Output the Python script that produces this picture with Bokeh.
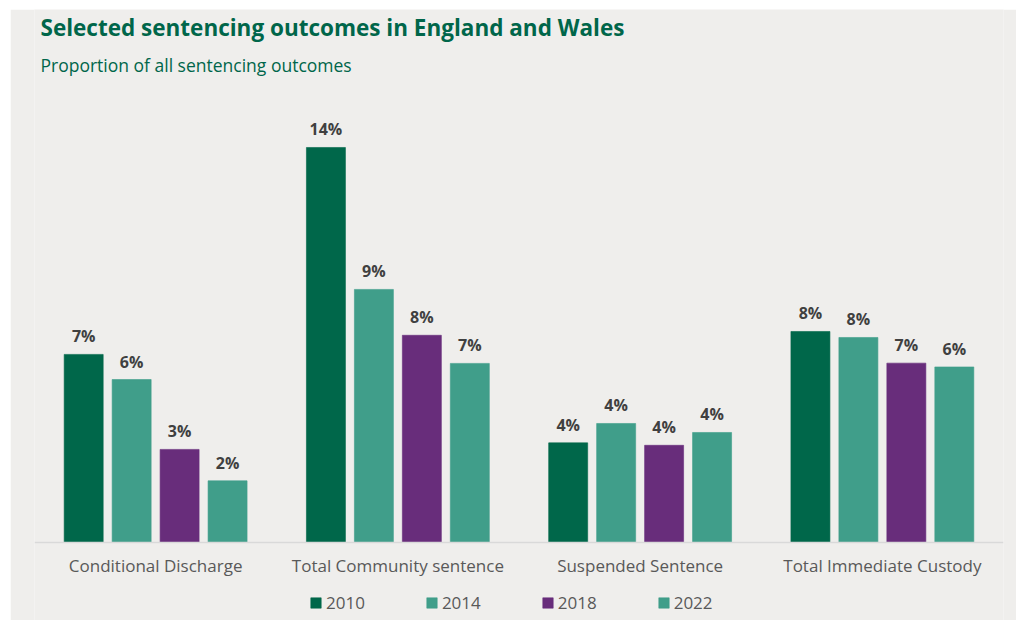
from bokeh.plotting import figure
from bokeh.models import ColumnDataSource, Range1d, Label, Legend, LegendItem
from bokeh.transform import dodge
from bokeh.embed import file_html
from bokeh.resources import INLINE

categories = ["Conditional Discharge", "Total Community sentence", "Suspended Sentence", "Total Immediate Custody"]
years = ["2010", "2014", "2018", "2022"]
v2010 = [6.89, 14.47, 3.65, 7.73]
v2014 = [5.97, 9.27, 4.36, 7.51]
v2018 = [3.41, 7.59, 3.56, 6.57]
v2022 = [2.26, 6.56, 4.03, 6.43]
l2010 = ["7%", "14%", "4%", "8%"]
l2014 = ["6%", "9%", "4%", "8%"]
l2018 = ["3%", "8%", "4%", "7%"]
l2022 = ["2%", "7%", "4%", "6%"]

colors = ["#00674A", "#409E8A", "#682D7B", "#409E8A"]
offsets = [-0.297, -0.099, 0.099, 0.297]
series = [v2010, v2014, v2018, v2022]
labels = [l2010, l2014, l2018, l2022]

BG = "#EFEEEC"
PX = 27.3  # pixels per percentage point

p = figure(x_range=categories, y_range=Range1d(-78 / PX, 533 / PX), width=1006, height=611,
           output_backend="svg", toolbar_location=None,
           min_border_left=24, min_border_right=13, min_border_top=0, min_border_bottom=0)
p.margin = (9, 0, 0, 10)
p.background_fill_color = BG
p.border_fill_color = BG
p.outline_line_color = None
p.xgrid.visible = False
p.ygrid.visible = False
p.yaxis.visible = False

ax = p.xaxis[0]
ax.fixed_location = 0
ax.axis_line_color = "#D9D9D9"
ax.axis_line_width = 1.5
ax.major_tick_line_color = None
ax.minor_tick_line_color = None
ax.major_tick_out = 0
ax.major_tick_in = 0
ax.major_label_standoff = 11
ax.major_label_text_font = "Open Sans"
ax.major_label_text_font_size = "17px"
ax.major_label_text_color = "#595959"

items = []
for yr, vals, labs, col, off in zip(years, series, labels, colors, offsets):
    src = ColumnDataSource(dict(cat=categories, val=vals, lab=labs))
    r = p.vbar(x=dodge("cat", off, range=p.x_range), top="val", width=0.161, source=src,
               fill_color=col, line_color=col, line_alpha=0.6)
    p.text(x=dodge("cat", off, range=p.x_range), y="val", text="lab", source=src,
           text_align="center", text_baseline="bottom", y_offset=-7,
           text_font={"value": "Open Sans"}, text_font_style="bold",
           text_font_size={"value": "16px"}, text_color="#404040")
    items.append(LegendItem(label=yr, renderers=[r]))

legend = Legend(items=items, orientation="horizontal", location=(275, 6),
                glyph_width=13, glyph_height=13, label_standoff=4, spacing=60,
                padding=0, margin=0, border_line_color=None, background_fill_alpha=0,
                label_text_font="Open Sans", label_text_font_size="17px",
                label_text_color="#595959")
p.add_layout(legend, "center")

p.add_layout(Label(x=6, y=593, x_units="screen", y_units="screen",
                   text="Selected sentencing outcomes in England and Wales",
                   text_font="Open Sans", text_font_style="bold", text_font_size="22.5px",
                   text_color="#00664A", text_baseline="middle"))
p.add_layout(Label(x=6, y=556, x_units="screen", y_units="screen",
                   text="Proportion of all sentencing outcomes",
                   text_font="Open Sans", text_font_size="17.5px",
                   text_color="#00664A", text_baseline="middle"))

open("out.html", "w").write(file_html(p, INLINE))
